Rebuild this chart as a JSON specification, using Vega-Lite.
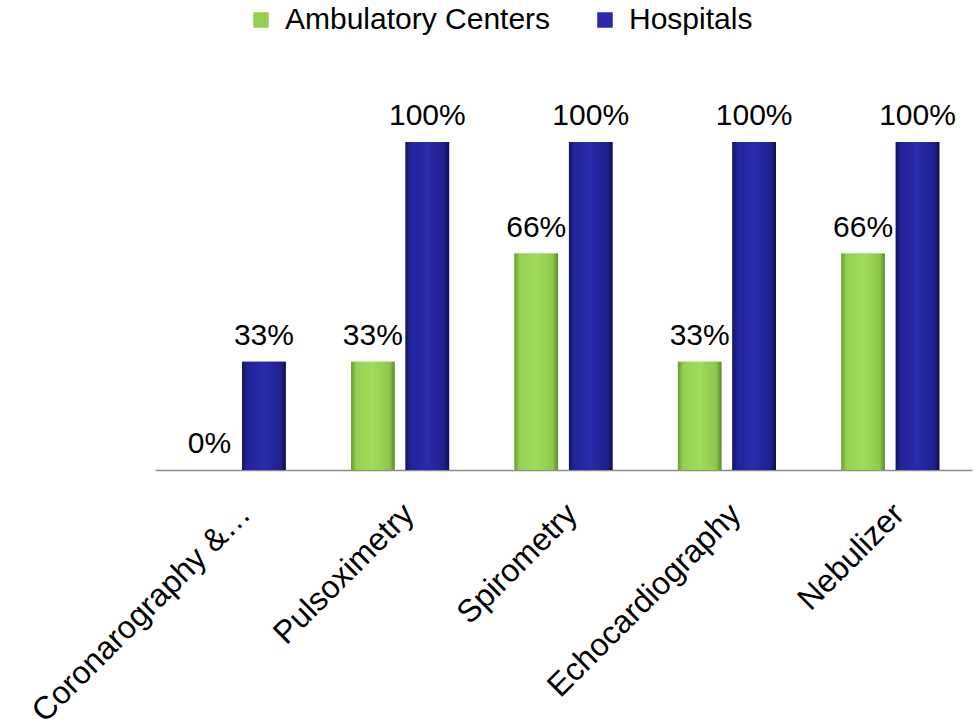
{
  "$schema": "https://vega.github.io/schema/vega-lite/v6.json",
  "autosize": {"type": "none"},
  "width": 817,
  "height": 328,
  "padding": {"left": 155, "top": 142, "right": 3, "bottom": 258},
  "background": "white",
  "config": {"view": {"stroke": null}, "font": "Liberation Sans"},
  "data": {
    "values": [
      {"category": "Coronarography &…", "type": "Ambulatory Centers", "value": 0},
      {"category": "Coronarography &…", "type": "Hospitals", "value": 0.33},
      {"category": "Pulsoximetry", "type": "Ambulatory Centers", "value": 0.33},
      {"category": "Pulsoximetry", "type": "Hospitals", "value": 1.0},
      {"category": "Spirometry", "type": "Ambulatory Centers", "value": 0.66},
      {"category": "Spirometry", "type": "Hospitals", "value": 1.0},
      {"category": "Echocardiography", "type": "Ambulatory Centers", "value": 0.33},
      {"category": "Echocardiography", "type": "Hospitals", "value": 1.0},
      {"category": "Nebulizer", "type": "Ambulatory Centers", "value": 0.66},
      {"category": "Nebulizer", "type": "Hospitals", "value": 1.0}
    ]
  },
  "encoding": {
    "x": {
      "field": "category", "type": "nominal", "sort": null,
      "scale": {"paddingInner": 0.4, "paddingOuter": 0.2},
      "axis": {
        "title": null, "labelAngle": -45, "labelFontSize": 32, "labelColor": "black",
        "labelFont": "Liberation Sans", "ticks": false, "domainColor": "#8c8c8c",
        "domainWidth": 1.5, "labelPadding": 28, "labelOffset": -2, "labelLimit": 600
      }
    },
    "xOffset": {"field": "type", "type": "nominal", "scale": {"paddingInner": 0.2}},
    "y": {
      "field": "value", "type": "quantitative",
      "scale": {"domain": [0, 1]},
      "axis": null
    }
  },
  "layer": [
    {
      "mark": {"type": "bar"},
      "encoding": {
        "color": {
          "field": "type", "type": "nominal",
          "scale": {"domain": ["Ambulatory Centers", "Hospitals"], "range": ["#92D050", "#2828A8"]},
          "legend": {
            "title": null, "orient": "none", "direction": "horizontal",
            "legendX": 91, "legendY": -137, "padding": 0,
            "symbolType": "square", "symbolSize": 240, "symbolStrokeWidth": 0,
            "labelFontSize": 30, "labelColor": "black", "labelFont": "Liberation Sans",
            "labelOffset": 9, "columnPadding": 39, "labelLimit": 400
          }
        }
      }
    },
    {
      "mark": {"type": "bar"},
      "encoding": {
        "fill": {
          "condition": {
            "test": "datum.type === 'Hospitals'",
            "value": {
              "gradient": "linear", "x1": 0, "y1": 0, "x2": 1, "y2": 0,
              "stops": [
                {"offset": 0, "color": "#14145e"},
                {"offset": 0.12, "color": "#23239a"},
                {"offset": 0.5, "color": "#2a2aab"},
                {"offset": 0.88, "color": "#20208f"},
                {"offset": 1, "color": "#0f0f4a"}
              ]
            }
          },
          "value": {
            "gradient": "linear", "x1": 0, "y1": 0, "x2": 1, "y2": 0,
            "stops": [
              {"offset": 0, "color": "#6a9c34"},
              {"offset": 0.12, "color": "#95d152"},
              {"offset": 0.5, "color": "#a0dc5c"},
              {"offset": 0.88, "color": "#8cc84a"},
              {"offset": 1, "color": "#5c8a2c"}
            ]
          }
        }
      }
    },
    {
      "mark": {"type": "text", "baseline": "alphabetic", "dy": -17, "fontSize": 30, "color": "black", "font": "Liberation Sans"},
      "encoding": {
        "text": {"field": "value", "type": "quantitative", "format": ".0%"},
        "detail": {"field": "type"}
      }
    }
  ]
}
